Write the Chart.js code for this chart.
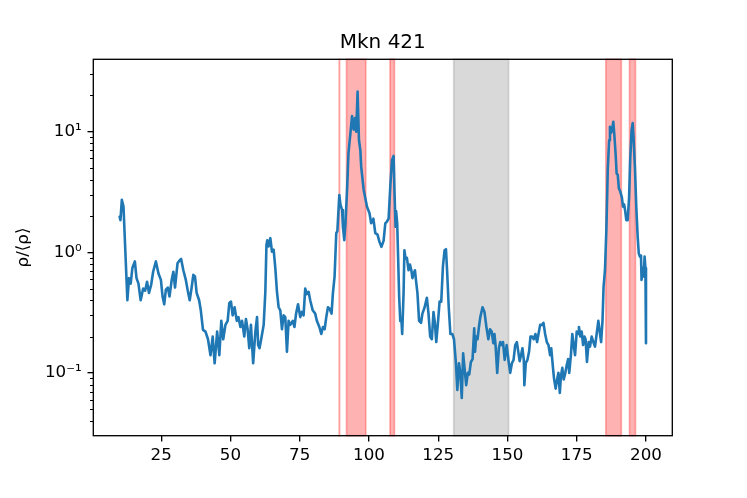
<!DOCTYPE html>
<html><head><meta charset="utf-8">
<script src="https://cdn.jsdelivr.net/npm/chart.js@4.4.0/dist/chart.umd.min.js"></script>
<style>html,body{margin:0;padding:0;background:#fff;}#wrap{width:747px;height:498px;}</style>
</head><body><div id="wrap"><canvas id="c" width="747" height="498"></canvas></div>
<script>
const chartTitle = 'Mkn 421';
const yAxisLabel = 'ρ/⟨ρ⟩';
const positions = [
10.0,10.3,10.8,11.4,12.8,13.4,14.0,14.6,15.5,16.1,16.8,17.6,18.5,19.2,19.9,20.6,21.4,22.1,23.1,24.0,24.9,25.5,26.1,26.7,27.4,28.0,28.8,29.4,30.0,30.9,31.7,32.2,33.0,33.9,34.6,35.3,36.0,36.6,37.2,37.8,38.7,39.3,40.1,
41.0,41.9,42.8,43.6,44.3,45.2,46.0,46.7,47.4,48.2,49.0,49.6,50.2,50.8,51.5,52.3,52.9,53.6,54.2,55.0,55.6,56.2,56.8,57.4,58.2,59.0,59.6,60.0,60.5,61.1,62.0,62.6,63.0,63.3,63.8,64.4,65.0,65.6,66.2,66.8,67.4,68.0,68.6,69.2,69.8,70.4,71.0,71.6,72.5,73.1,73.7,74.4,
75.2,75.8,76.4,77.0,77.6,78.2,78.8,79.7,80.6,81.2,82.1,82.8,83.4,84.0,84.6,85.2,85.8,86.5,87.0,87.6,88.2,88.6,89.3,89.7,90.3,90.6,91.1,91.5,92.1,92.6,93.3,93.9,94.5,95.0,95.4,95.9,96.4,96.9,97.2,98.1,99.3,100.2,100.8,101.6,102.3,103.1,103.8,104.5,105.3,105.9,106.5,107.1,107.7,108.3,108.9,109.2,109.6,109.8,110.2,
110.9,111.3,111.7,112.0,112.5,112.8,113.2,113.7,114.3,114.8,115.3,115.7,116.2,116.6,117.0,117.5,118.1,118.8,119.3,120.1,120.9,121.5,122.1,122.7,123.3,123.8,124.3,124.9,125.5,126.1,126.7,127.3,127.8,128.2,128.8,129.4,130.1,130.7,131.4,131.9,132.5,133.0,133.5,134.0,134.5,135.1,135.7,136.2,136.8,137.4,138.0,138.3,138.7,139.2,139.7,140.2,141.0,141.7,142.4,143.1,
143.7,144.3,144.9,145.3,145.7,146.3,146.9,147.4,148.0,148.4,149.0,149.7,150.5,151.0,151.6,152.2,152.8,153.4,153.9,154.4,154.9,155.4,155.9,156.1,156.6,157.2,157.8,158.3,158.9,159.5,160.1,160.7,161.2,161.8,162.5,163.0,163.6,164.2,164.8,165.4,165.8,166.4,166.8,167.4,168.0,168.4,168.9,169.3,169.8,170.3,170.8,171.4,171.9,172.3,172.9,173.4,173.9,174.4,175.0,175.5,175.8,176.3,176.8,177.3,177.8,178.2,178.7,179.3,
179.8,180.4,181.0,181.6,182.2,182.8,183.3,183.8,184.3,184.7,185.2,185.7,186.2,186.7,187.0,187.4,187.9,188.2,188.6,189.1,189.4,189.8,190.2,190.7,191.3,191.7,192.1,192.5,192.9,193.4,193.9,194.3,194.8,195.2,195.5,196.0,196.5,197.0,197.4,197.8,198.2,198.4,198.8,199.2,199.5,199.8,200.0
];
const rho = [
1.97,1.85,2.72,2.39,0.40,0.61,0.55,0.74,0.84,0.61,0.55,0.40,0.50,0.48,0.57,0.46,0.54,0.69,0.84,0.67,0.59,0.43,0.37,0.49,0.51,0.43,0.59,0.69,0.51,0.81,0.86,0.88,0.71,0.59,0.48,0.40,0.51,0.65,0.63,0.46,0.40,0.33,0.227,
0.22,0.19,0.14,0.20,0.12,0.22,0.14,0.27,0.19,0.25,0.27,0.38,0.39,0.30,0.35,0.27,0.29,0.24,0.27,0.20,0.28,0.23,0.16,0.25,0.12,0.22,0.29,0.17,0.16,0.19,0.25,0.47,1.15,1.26,1.12,1.31,1.01,1.05,0.74,0.47,0.35,0.33,0.23,0.30,0.29,0.15,0.27,0.25,0.27,0.24,0.31,0.37,
0.29,0.32,0.30,0.50,0.45,0.47,0.40,0.33,0.31,0.27,0.24,0.21,0.24,0.23,0.29,0.35,0.34,0.31,0.46,0.63,1.44,1.50,2.99,2.5,2.24,1.63,1.26,1.7,3.29,6.6,9.7,13.5,10.4,13.0,10.0,21.5,8.5,7.0,5.13,3.29,2.39,2.11,1.74,1.9,1.44,1.40,1.22,1.11,1.25,1.74,1.8,1.9,3.5,5.8,6.3,3.29,1.63,2.2,1.74,
0.43,0.27,0.28,0.21,0.46,1.04,0.89,0.90,0.71,0.79,0.71,0.61,0.67,0.71,0.58,0.46,0.27,0.26,0.31,0.35,0.42,0.31,0.20,0.19,0.32,0.26,0.18,0.26,0.39,0.39,0.76,1.04,1.06,0.71,0.35,0.21,0.21,0.19,0.12,0.072,0.12,0.10,0.062,0.145,0.11,0.079,0.10,0.097,0.123,0.13,0.234,0.15,0.20,0.19,0.24,0.29,0.35,0.32,0.24,0.19,
0.23,0.22,0.176,0.21,0.17,0.10,0.16,0.18,0.17,0.18,0.128,0.17,0.12,0.10,0.12,0.128,0.17,0.18,0.15,0.125,0.14,0.16,0.128,0.079,0.12,0.128,0.15,0.20,0.20,0.19,0.21,0.18,0.21,0.25,0.25,0.26,0.21,0.18,0.17,0.14,0.16,0.112,0.09,0.074,0.09,0.10,0.068,0.094,0.11,0.088,0.098,0.116,0.13,0.10,0.14,0.21,0.17,0.14,0.22,0.21,0.24,0.20,0.22,0.17,0.20,0.19,0.123,0.18,
0.165,0.20,0.18,0.165,0.21,0.27,0.22,0.18,0.27,0.52,0.71,1.53,4.8,8.5,11.0,9.8,10.8,12.1,9.3,6.2,4.5,4.4,3.4,3.2,2.85,2.39,2.5,2.2,1.85,1.85,2.85,5.8,10.3,11.8,9.0,5.1,2.39,1.35,0.98,0.92,0.94,0.59,0.74,0.63,0.92,0.74,0.176
];
const redSpans = [[89.25,89.4],[91.9,98.85],[107.6,109.2],[185.5,191.1],[194.05,196.2]];
const graySpans = [[130.6,150.4]];
const xTicks = [25,50,75,100,125,150,175,200];
const yMajorTicks = [0.1,1,10];
const yTickLabels = ['10⁻¹','10⁰','10¹'];

const FONT = 'DejaVu Sans';
const LINE_COLOR = '#1f77b4';

const spanPlugin = {
  id: 'spans',
  beforeDatasetsDraw(chart) {
    const {ctx, chartArea: a, scales: {x}} = chart;
    ctx.save();
    const draw = (spans, col) => spans.forEach(([s, e]) => {
      const x0 = x.getPixelForValue(s), x1 = x.getPixelForValue(e);
      ctx.fillStyle = col;
      ctx.fillRect(x0, a.top, x1 - x0, a.bottom - a.top);
      ctx.strokeStyle = col;
      ctx.lineWidth = 1.67;
      ctx.strokeRect(x0, a.top, x1 - x0, a.bottom - a.top);
    });
    draw(redSpans, 'rgba(255,0,0,0.3)');
    draw(graySpans, 'rgba(128,128,128,0.3)');
    ctx.restore();
  }
};

const framePlugin = {
  id: 'frame',
  afterDraw(chart) {
    const {ctx, chartArea: a, scales: {y}} = chart;
    ctx.save();
    ctx.strokeStyle = '#000';
    ctx.lineWidth = 1;
    y.ticks.forEach(t => {
      if (t.major) return;
      const py = Math.round(y.getPixelForValue(t.value)) + 0.5;
      ctx.beginPath();
      ctx.moveTo(a.left - 3.3, py);
      ctx.lineTo(a.left, py);
      ctx.stroke();
    });
    ctx.lineWidth = 1.33;
    ctx.strokeRect(a.left, a.top, a.right - a.left, a.bottom - a.top);
    ctx.fillStyle = '#000';
    ctx.font = '20px "' + FONT + '"';
    ctx.textAlign = 'center';
    ctx.textBaseline = 'alphabetic';
    ctx.fillText(chartTitle, (a.left + a.right) / 2, a.top - 11);
    ctx.restore();
  }
};

new Chart(document.getElementById('c'), {
  type: 'line',
  data: {
    datasets: [{
      data: positions.map((p, i) => ({x: p, y: rho[i]})),
      borderColor: LINE_COLOR,
      borderWidth: 2.6,
      pointRadius: 0,
      tension: 0,
      fill: false,
      borderJoinStyle: 'round',
      borderCapStyle: 'round'
    }]
  },
  options: {
    responsive: false,
    animation: false,
    events: [],
    layout: {padding: {left: 0, right: 74.7, top: 59.3, bottom: 0}},
    plugins: {
      legend: {display: false},
      tooltip: {enabled: false},
      title: {display: false}
    },
    scales: {
      x: {
        type: 'linear', min: 0.5, max: 209.5,
        afterFit(s) { s.height = 62.3; },
        afterBuildTicks(s) { s.ticks = xTicks.map(v => ({value: v})); },
        ticks: {autoSkip: false, maxRotation: 0, padding: 4, color: '#000', font: {family: FONT, size: 16.7}},
        grid: {drawOnChartArea: false, drawTicks: true, tickLength: 5.8, lineWidth: 1.33, color: '#000'},
        border: {display: false}
      },
      y: {
        type: 'logarithmic', min: 0.0301, max: 39.9,
        afterFit(s) { s.width = 93.3; },
        afterBuildTicks(s) {
          const t = [];
          for (let k = -2; k <= 1; k++) for (let m = 1; m <= 9; m++) {
            const v = +(m * Math.pow(10, k)).toPrecision(3);
            if (v >= s.min && v <= s.max) t.push({value: v, major: m === 1});
          }
          s.ticks = t;
        },
        ticks: {
          autoSkip: false, padding: 5.8, color: '#000', font: {family: FONT, size: 16.7},
          callback(v) { const i = yMajorTicks.indexOf(v); return i >= 0 ? yTickLabels[i] : ''; }
        },
        grid: {
          drawOnChartArea: false, drawTicks: true, tickLength: 5.8, lineWidth: 1.33,
          color: c => (c.tick && c.tick.major) ? '#000' : 'rgba(0,0,0,0)'
        },
        border: {display: false},
        title: {display: true, text: yAxisLabel, color: '#000', font: {family: FONT, size: 16.7}, padding: {top: 14, bottom: 0}}
      }
    }
  },
  plugins: [spanPlugin, framePlugin]
});
</script>
</body></html>
